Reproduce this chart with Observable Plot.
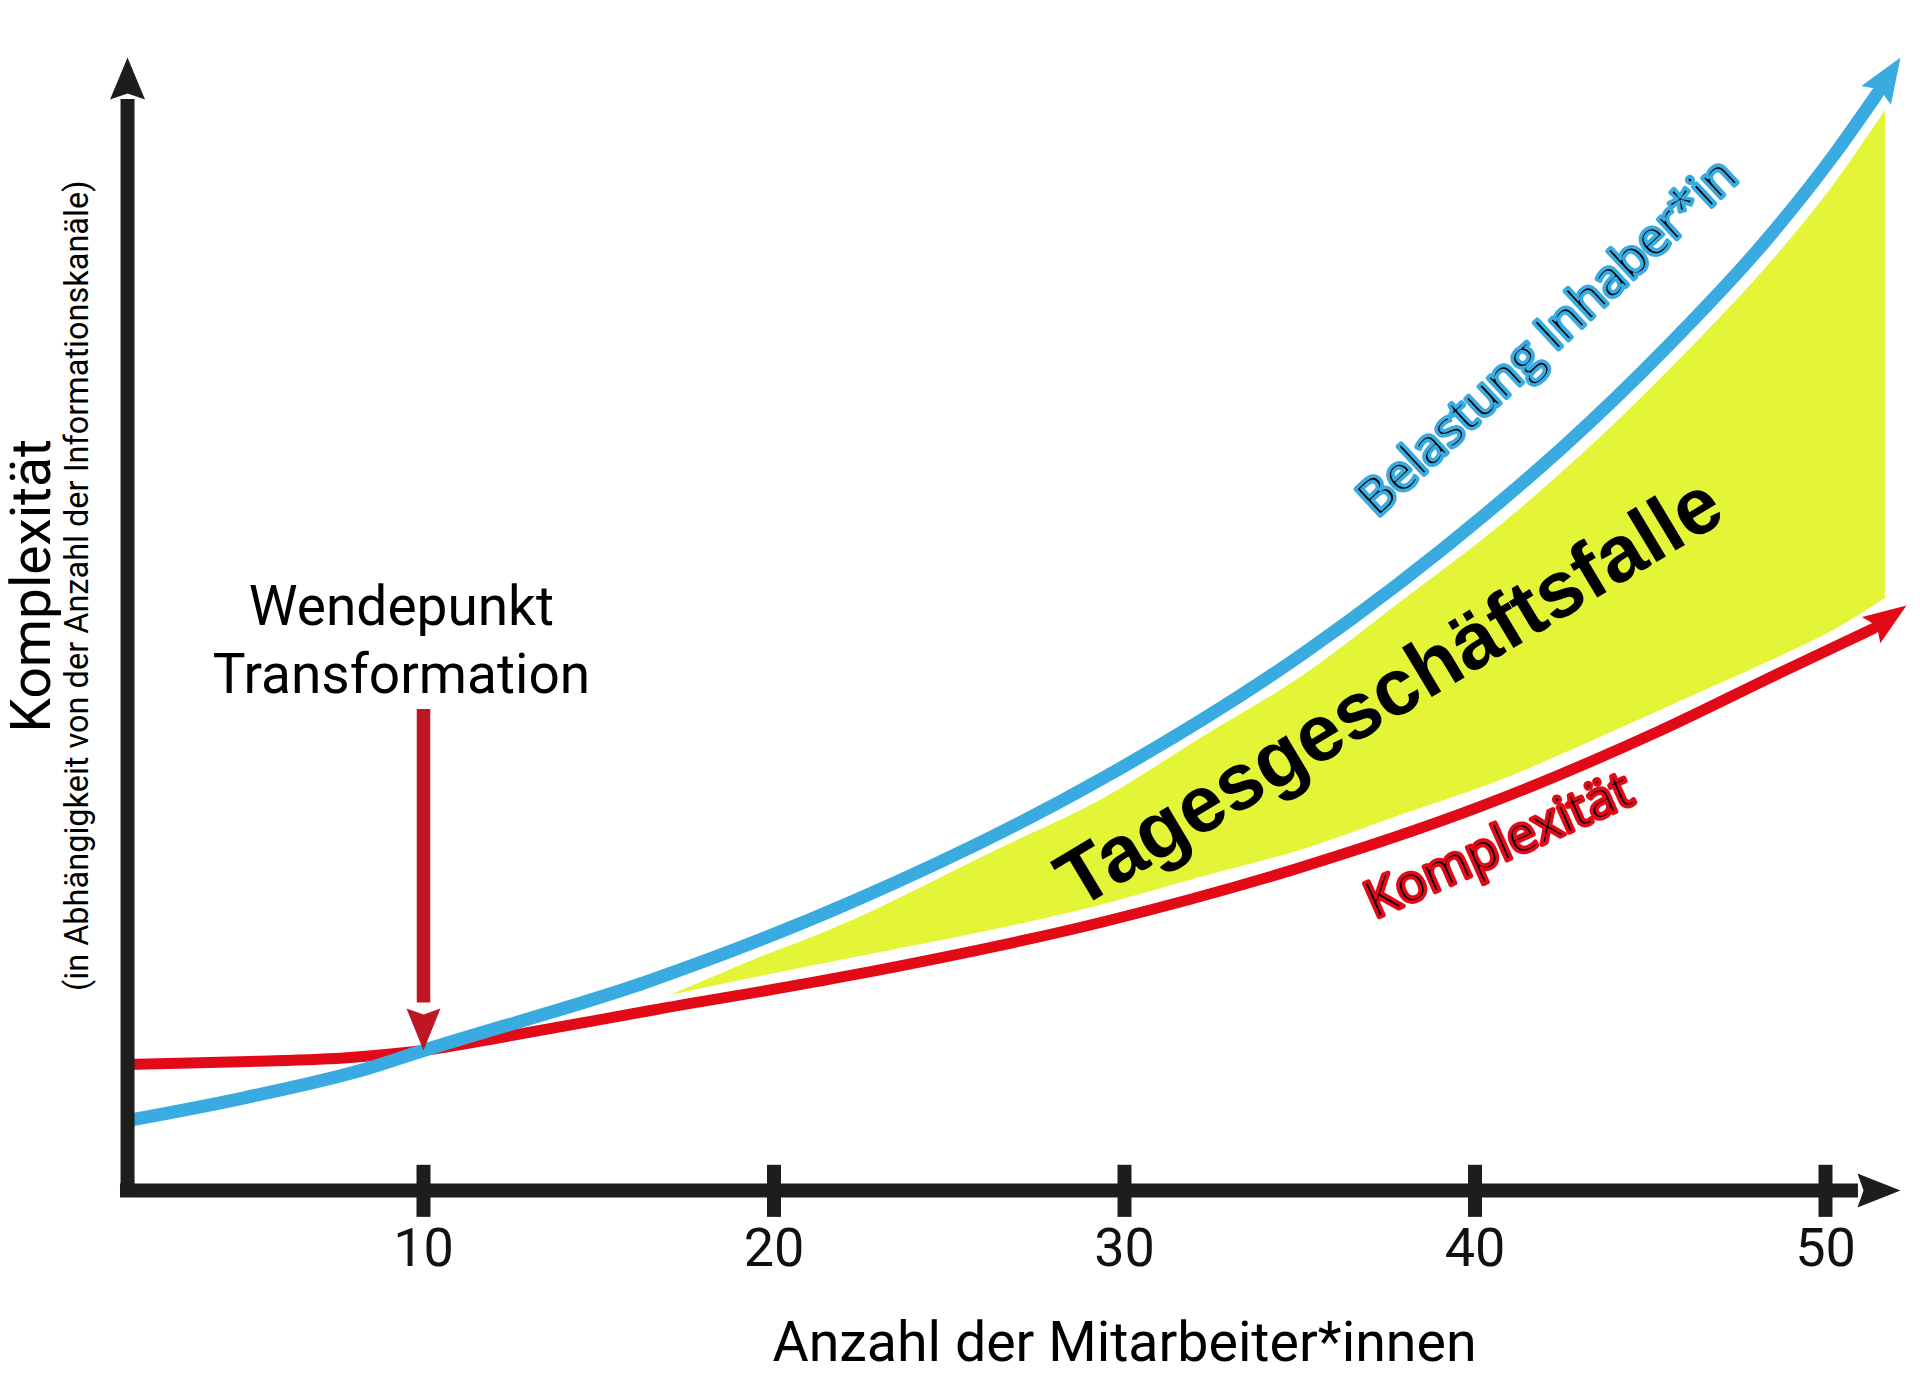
<!DOCTYPE html>
<html>
<head>
<meta charset="utf-8">
<script src="https://cdn.jsdelivr.net/npm/d3@7"></script>
<script src="https://cdn.jsdelivr.net/npm/@observablehq/plot@0.6"></script>
<style>
  html, body { margin: 0; padding: 0; background: #ffffff; }
  #chart svg { display: block; }
</style>
</head>
<body>
<div id="chart"></div>
<script>
// ---------- data ----------
const xTicks = [10, 20, 30, 40, 50];

// "Belastung Inhaber*in" (blue) – last value is the arrow tip
const belastungX = [1.56, 4.92, 8.40, 10.00, 16.48, 22.18, 29.32, 35.02, 40.73, 42.53, 45.49, 48.35, 50.23, 51.48, 52.14];
const belastungY = [6.25, 8.30, 10.89, 12.50, 18.75, 25.71, 36.70, 47.77, 61.52, 66.43, 75.36, 85.00, 92.41, 97.95, 101.16];

// "Komplexität" (red) – last value is the arrow tip
const komplexX = [1.56, 5.06, 7.92, 10.00, 12.20, 16.48, 22.18, 29.32, 35.02, 40.16, 45.29, 48.72, 51.37, 52.31];
const komplexY = [11.25, 11.52, 11.88, 12.50, 13.66, 16.07, 19.20, 23.93, 28.84, 34.29, 41.07, 46.25, 50.18, 52.23];

// highlighted zone "Tagesgeschäftsfalle"
const fallX     = [17.05, 19.33, 22.18, 26.46, 29.31, 32.17, 35.02, 37.87, 40.73, 43.58, 46.43, 48.34, 50.23, 51.71];
const fallUpper = [17.41, 20.45, 24.02, 30.54, 34.82, 40.36, 45.80, 52.50, 59.38, 67.23, 76.07, 82.50, 89.73, 96.43];
const fallLower = [17.41, 18.93, 20.71, 23.39, 25.45, 27.95, 30.36, 33.48, 36.61, 40.45, 44.46, 47.14, 50.00, 52.86];

// turning point
const wendeX = 10;
const wendeY = 12.50;
const wendeArrowTop = 42.95;
const wendeArrowBase = 16.25;

// ---------- layout / style ----------
const W = 1920, H = 1374;
const xDomain = [0, 50], xRange = [72.5, 1825];
const yDomain = [0, 100], yRange = [1190, 70];
const sx = d3.scaleLinear(xDomain, xRange);
const sy = d3.scaleLinear(yDomain, yRange);

const axisColor = "#1d1d1b";
const blueColor = "#3aabe0";
const redColor  = "#e30a17";
const darkRed   = "#be1622";
const yellow    = "#e3f536";
const font = "Roboto, 'Noto Sans', sans-serif";

const axisX0 = 1.355, axisXBase = 50.94, axisXTip = 52.14;
const axisYx = 1.556, axisYBottom = -0.63, axisYBase = 97.4, axisYTip = 101.16;

const series = (xs, ys) => xs.map((x, i) => ({x, y: ys[i]}));
const blue = series(belastungX, belastungY);
const red = series(komplexX, komplexY);
const fall = fallX.map((x, i) => ({x, y1: fallLower[i], y2: fallUpper[i]}));

function head(base, tip) {
  const dx = sx(tip.x) - sx(base.x);
  const dy = sy(tip.y) - sy(base.y);
  return {x: tip.x, y: tip.y, angle: Math.atan2(dx, -dy) * 180 / Math.PI};
}
const lastHead = (pts) => head(pts[pts.length - 2], pts[pts.length - 1]);

function arrowSymbol(L, Wd, N) {
  return {
    draw(ctx) {
      ctx.moveTo(0, 0);
      ctx.lineTo(Wd / 2, L);
      ctx.lineTo(0, L - N);
      ctx.lineTo(-Wd / 2, L);
      ctx.closePath();
    }
  };
}

const heads = [
  {...lastHead(blue), color: blueColor, sym: arrowSymbol(45, 35, 7)},
  {...lastHead(red), color: redColor, sym: arrowSymbol(43, 32, 7)},
  {...head({x: axisXBase, y: 0}, {x: axisXTip, y: 0}), color: axisColor, sym: arrowSymbol(43, 34, 6)},
  {...head({x: axisYx, y: axisYBase}, {x: axisYx, y: axisYTip}), color: axisColor, sym: arrowSymbol(42, 35, 6)},
  {...head({x: wendeX, y: wendeArrowBase}, {x: wendeX, y: wendeY}), color: darkRed, sym: arrowSymbol(42, 34, 6)}
];

const headMarks = heads.map(h => Plot.dot([h], {
  x: "x", y: "y", r: 4, symbol: h.sym, rotate: "angle", fill: h.color, stroke: "none"
}));

const chart = Plot.plot({
  width: W,
  height: H,
  marginTop: 0,
  marginRight: 0,
  marginLeft: 0,
  marginBottom: H - 1190,
  style: {fontFamily: font, background: "#ffffff", overflow: "visible"},
  x: {domain: xDomain, range: xRange},
  y: {domain: yDomain, range: yRange, axis: null},
  marks: [
    // highlighted zone
    Plot.areaY(fall, {x: "x", y1: "y1", y2: "y2", fill: yellow, curve: "catmull-rom"}),

    // curves
    Plot.line(red.slice(0, -1), {x: "x", y: "y", stroke: redColor, strokeWidth: 11, curve: "monotone-x"}),
    Plot.line(blue.slice(0, -1), {x: "x", y: "y", stroke: blueColor, strokeWidth: 13, curve: "monotone-x"}),

    // axes
    Plot.ruleY([0], {x1: axisX0, x2: axisXBase, stroke: axisColor, strokeWidth: 14}),
    Plot.ruleX([axisYx], {y1: axisYBottom, y2: axisYBase, stroke: axisColor, strokeWidth: 14}),
    Plot.ruleX(xTicks, {y1: -2.4, y2: 2.25, stroke: axisColor, strokeWidth: 14}),
    Plot.axisX(xTicks, {tickSize: 0, tickPadding: 37, fontSize: 54, fontFamily: font, tickFormat: d => String(d), label: null, fill: "#111"}),

    // turning point arrow
    Plot.ruleX([wendeX], {y1: wendeArrowTop, y2: wendeArrowBase + 0.5, stroke: darkRed, strokeWidth: 13.5}),

    ...headMarks,

    // labels
    Plot.text(["Komplexität"], {x: -0.67, y: 54.0, text: d => d, rotate: -90, fontSize: 55, lineAnchor: "bottom", textAnchor: "middle", fill: "#000", fontFamily: font}),
    Plot.text(["(in Abhängigkeit von der Anzahl der Informationskanäle)"], {x: 0.44, y: 54.0, text: d => d, rotate: -90, fontSize: 32.5, lineAnchor: "bottom", textAnchor: "middle", fill: "#000", fontFamily: font}),
    Plot.text(["Anzahl der Mitarbeiter*innen"], {x: 30.0, y: -15.18, text: d => d, fontSize: 55.5, lineAnchor: "bottom", textAnchor: "middle", fill: "#000", fontFamily: font}),
    Plot.text(["Wendepunkt\nTransformation"], {x: 9.37, y: 44.46, text: d => d, fontSize: 55, lineAnchor: "bottom", textAnchor: "middle", lineHeight: 1.22, fill: "#000", fontFamily: font}),

    Plot.text(["Tagesgeschäftsfalle"], {x: 37.94, y: 42.5, text: d => d, rotate: -31, fontSize: 80, fontWeight: "bold", lineAnchor: "bottom", textAnchor: "middle", fill: "#000", fontFamily: "'Liberation Sans', Arial, sans-serif"}),

    Plot.text(["Belastung Inhaber*in"], {x: 42.38, y: 75.13, text: d => d, rotate: -43, fontSize: 50, lineAnchor: "bottom", textAnchor: "middle", fill: blueColor, stroke: blueColor, strokeWidth: 5, fontFamily: "'Open Sans', sans-serif"}),
    Plot.text(["Belastung Inhaber*in"], {x: 42.38, y: 75.13, text: d => d, rotate: -43, fontSize: 50, lineAnchor: "bottom", textAnchor: "middle", fill: "#000", stroke: blueColor, strokeWidth: 2.4, paintOrder: "fill", fontFamily: "'Open Sans', sans-serif"}),

    Plot.text(["Komplexität"], {x: 40.87, y: 29.46, text: d => d, rotate: -24, fontSize: 51, lineAnchor: "bottom", textAnchor: "middle", fill: redColor, stroke: redColor, strokeWidth: 5, fontFamily: "'Open Sans', sans-serif"}),
    Plot.text(["Komplexität"], {x: 40.87, y: 29.46, text: d => d, rotate: -24, fontSize: 51, lineAnchor: "bottom", textAnchor: "middle", fill: "#000", stroke: redColor, strokeWidth: 2.4, paintOrder: "fill", fontFamily: "'Open Sans', sans-serif"})
  ]
});

document.getElementById("chart").appendChild(chart);
</script>
</body>
</html>
